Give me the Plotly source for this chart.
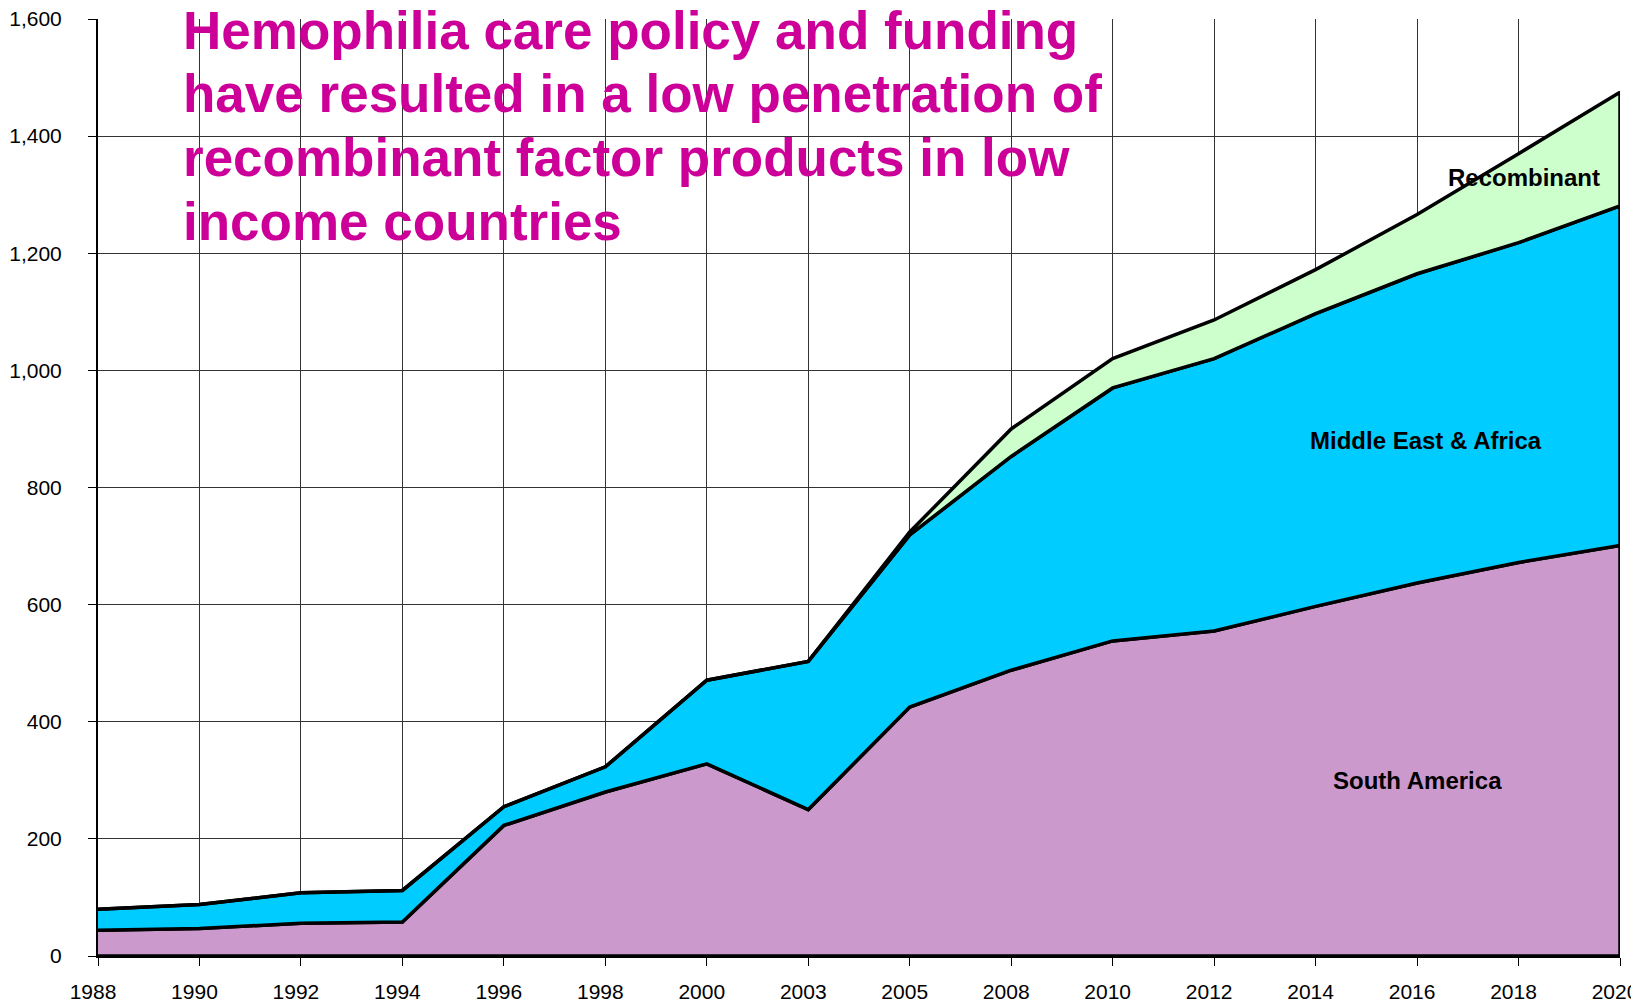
"""
Stacked area chart: hemophilia factor demand, low income regions.
"""
import plotly.graph_objects as go

years = ["1988", "1990", "1992", "1994", "1996", "1998", "2000", "2003",
         "2005", "2008", "2010", "2012", "2014", "2016", "2018", "2020"]
south_america = [44, 47, 56, 58, 223, 280, 328, 250,
                 425, 488, 538, 555, 597, 637, 672, 701]
middle_east_africa = [36, 41, 52, 54, 32, 43, 143, 253,
                      294, 365, 432, 465, 500, 528, 546, 580]
recombinant = [0, 0, 0, 0, 0, 0, 0, 0,
               5, 47, 50, 66, 75, 101, 152, 194]

y_ticks = [0, 200, 400, 600, 800, 1000, 1200, 1400, 1600]
y_ticktext = ["0", "200", "400", "600", "800", "1,000", "1,200", "1,400", "1,600"]

title_lines = [
    "Hemophilia care policy and funding",
    "have resulted in a low penetration of",
    "recombinant factor products in low",
    "income countries",
]

COLOURS = {
    "South America": "#CC99CC",
    "Middle East & Africa": "#00CCFF",
    "Recombinant": "#CCFFCC",
}
FONT = "Arial, Liberation Sans, sans-serif"

fig = go.Figure()

# stack the series by hand so each band gets a full black outline
bottom = [0] * len(years)
for name, vals in [("South America", south_america),
                   ("Middle East & Africa", middle_east_africa),
                   ("Recombinant", recombinant)]:
    top = [b + v for b, v in zip(bottom, vals)]
    fig.add_trace(go.Scatter(
        x=years + years[::-1],
        y=top + bottom[::-1],
        mode="lines",
        fill="toself",
        fillcolor=COLOURS[name],
        line=dict(color="black", width=3.5),
        name=name,
        showlegend=False,
        hoverinfo="skip",
    ))
    bottom = top

# region labels
for text, xi, yv in [("Recombinant", 14.05, 1329),
                     ("Middle East & Africa", 13.09, 881),
                     ("South America", 13.0, 300)]:
    fig.add_annotation(x=xi, y=yv, xref="x", yref="y", text=f"<b>{text}</b>",
                       showarrow=False, font=dict(family=FONT, size=24, color="black"))

# headline, one annotation per line to keep the tight line spacing
for i, line in enumerate(title_lines):
    fig.add_annotation(x=0.0546, y=0.9880 - i * 0.0680, xref="paper", yref="paper",
                       text=f"<b>{line}</b>", showarrow=False,
                       xanchor="left", yanchor="middle",
                       font=dict(family=FONT, size=53, color="#CC0099"))

# page body has an 8px margin, so the figure is sized to fit inside the window
fig.update_layout(
    width=1631,
    height=996,
    autosize=False,
    margin=dict(l=90, r=19, t=11, b=48, pad=0, autoexpand=False),
    plot_bgcolor="white",
    paper_bgcolor="white",
    font=dict(family=FONT, size=21, color="black"),
    xaxis=dict(
        type="category",
        categoryorder="array",
        categoryarray=years,
        range=[0, len(years) - 1],
        automargin=False,
        showgrid=True,
        gridcolor="#333333",
        gridwidth=1,
        showline=True,
        linecolor="black",
        linewidth=2,
        ticks="outside",
        ticklen=8,
        tickcolor="black",
        tickfont=dict(size=21),
        ticklabelstandoff=8,
        ticklabelshift=-5,
        ticklabeloverflow="allow",
        zeroline=False,
    ),
    yaxis=dict(
        range=[0, 1600],
        tickvals=y_ticks,
        ticktext=y_ticktext,
        automargin=False,
        showgrid=True,
        gridcolor="#333333",
        gridwidth=1,
        showline=True,
        linecolor="black",
        linewidth=2,
        ticks="outside",
        ticklen=8,
        tickcolor="black",
        tickfont=dict(size=21),
        ticklabelstandoff=22,
        ticklabeloverflow="allow",
        zeroline=False,
    ),
)

fig.write_html("out.html")
